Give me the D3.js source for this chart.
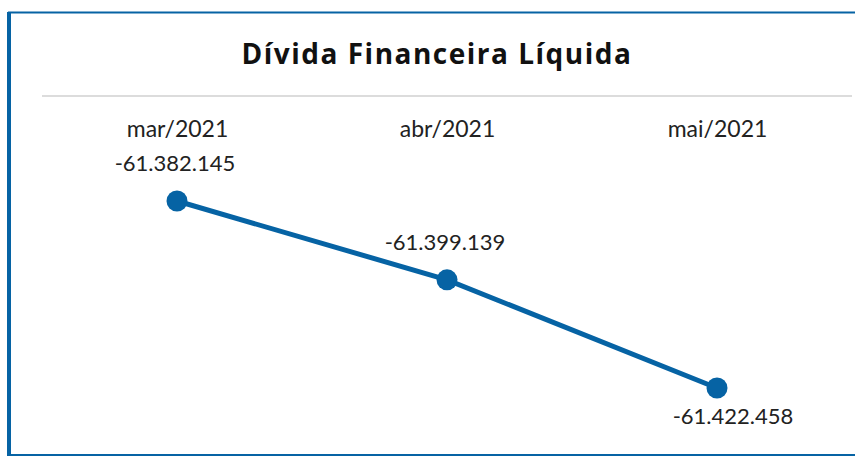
<!DOCTYPE html>
<html>
<head>
<meta charset="utf-8">
<script src="https://cdn.jsdelivr.net/npm/d3@7"></script>
<style>
  body { margin: 0; background: #fff; }
  text { font-family: Lato, "Open Sans", sans-serif; }
</style>
</head>
<body>
<script>
// Data
const chartTitle = "Dívida Financeira Líquida";
const months = ["mar/2021", "abr/2021", "mai/2021"];
const divida = [-61382145, -61399139, -61422458];

const width = 855;
const height = 457;
const blue = "#0663a4";

const svg = d3.select("body")
    .append("svg")
    .attr("width", width)
    .attr("height", height);

// frame
svg.append("rect")
    .attr("x", 9).attr("y", 12.5)
    .attr("width", width + 20).attr("height", 442.5)
    .attr("fill", "#fff")
    .attr("stroke", blue)
    .attr("stroke-width", 2);
svg.append("line")
    .attr("x1", 9).attr("x2", 9)
    .attr("y1", 12).attr("y2", 456)
    .attr("stroke", blue)
    .attr("stroke-width", 4);

// title
svg.append("text")
    .attr("x", 437).attr("y", 64)
    .attr("text-anchor", "middle")
    .attr("font-size", 28)
    .attr("font-weight", "bold")
    .attr("letter-spacing", 1.5)
    .attr("fill", "#111")
    .style("font-family", "'Open Sans', Lato, sans-serif")
    .text(chartTitle);

svg.append("line")
    .attr("x1", 42).attr("x2", 852)
    .attr("y1", 96).attr("y2", 96)
    .attr("stroke", "#dcdcdc")
    .attr("stroke-width", 2);

// scales
let xScale = d3.scalePoint()
    .domain(months)
    .range([42, 852])
    .padding(0.5);

let yScale = d3.scaleLinear()
    .domain([d3.min(divida), d3.max(divida)])
    .range([388, 201]);

let data = months.map((m, i) => ({ month: m, value: divida[i] }));

// category axis on top, no line/ticks
let axis = svg.append("g")
    .attr("transform", "translate(0,137)")
    .call(d3.axisTop(xScale).tickSize(0).tickPadding(0));
axis.select(".domain").remove();
axis.selectAll("text")
    .attr("font-size", 23)
    .attr("fill", "#222")
    .attr("dy", 0)
    .style("font-family", "Lato, 'Open Sans', sans-serif");

// line
let lineFn = d3.line()
    .x(d => xScale(d.month))
    .y(d => yScale(d.value));

svg.append("path")
    .datum(data)
    .attr("fill", "none")
    .attr("stroke", blue)
    .attr("stroke-width", 5)
    .attr("d", lineFn);

svg.selectAll("circle.pt")
    .data(data)
    .enter().append("circle")
    .attr("class", "pt")
    .attr("cx", d => xScale(d.month))
    .attr("cy", d => yScale(d.value))
    .attr("r", 10.5)
    .attr("fill", blue);

// data labels: above, except the lowest point goes below
const fmt = v => d3.format(",")(v).replace(/,/g, ".").replace("−", "-");
let lowest = d3.min(divida);
svg.selectAll("text.lbl")
    .data(data)
    .enter().append("text")
    .attr("class", "lbl")
    .attr("x", d => xScale(d.month) + (d.value === lowest ? 16 : -2))
    .attr("y", d => yScale(d.value) + (d.value === lowest ? 36 : -30))
    .attr("text-anchor", "middle")
    .attr("font-size", 22)
    .attr("fill", "#222")
    .text(d => fmt(d.value));
</script>
</body>
</html>
